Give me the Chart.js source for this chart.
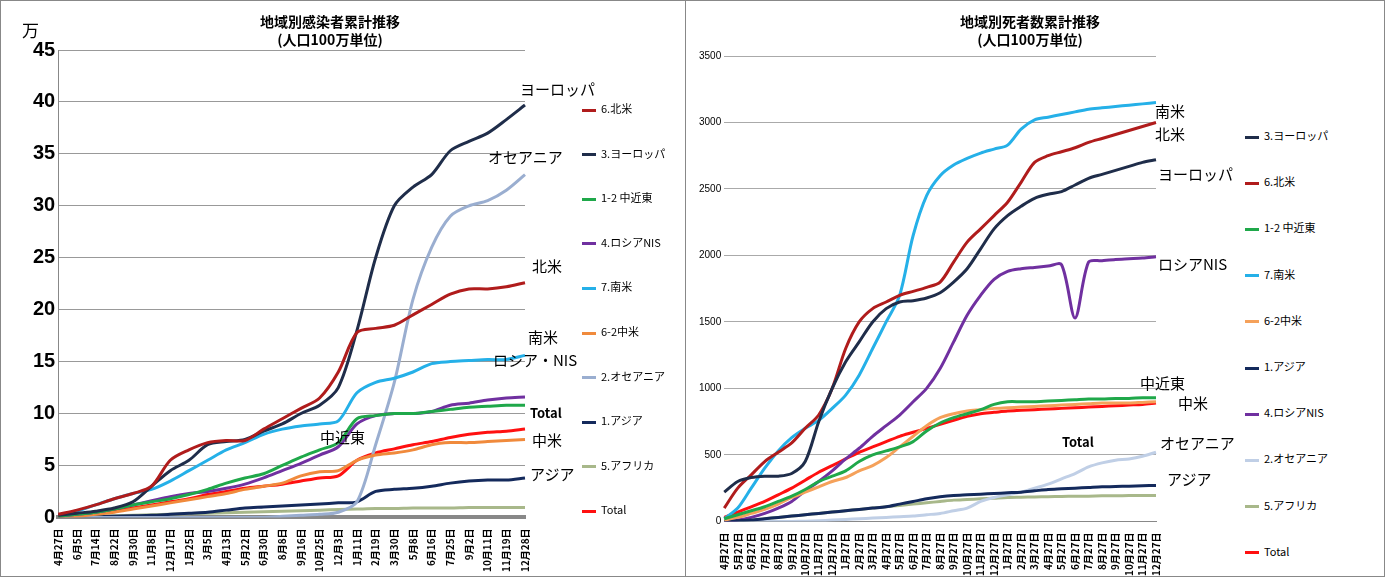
<!DOCTYPE html>
<html><head><meta charset="utf-8">
<script src="https://cdn.jsdelivr.net/npm/chart.js@4"></script>
<style>
body{margin:0;width:1385px;height:579px;background:#fff;font-family:"Noto Sans CJK JP",sans-serif;overflow:hidden}
.panel{position:absolute;top:0;height:577px;border:1px solid #888;box-sizing:border-box}
.t{position:absolute;font-weight:bold;font-size:14px;text-align:center;line-height:18px}
.lab{position:absolute;font-size:15px;white-space:nowrap}
.lg{position:absolute;font-size:11px;white-space:nowrap}
.lg i{display:inline-block;width:14px;height:3px;vertical-align:middle;margin-right:5px}
</style></head><body>
<div class="panel" style="left:0;width:686px"></div>
<div class="panel" style="left:685px;width:700px"></div>
<canvas id="c1" width="545" height="579" style="position:absolute;left:0;top:0;width:545px;height:579px"></canvas>
<canvas id="c2" width="485" height="579" style="position:absolute;left:686px;top:0;width:485px;height:579px"></canvas>
<div class="t" style="left:230px;top:12px;width:200px">地域別感染者累計推移<br>(人口100万単位)</div>
<div class="t" style="left:930px;top:12px;width:200px">地域別死者数累計推移<br>(人口100万単位)</div>
<div class="lab" style="left:22px;top:17px;font-size:17px">万</div>
<div id="ann"></div>
<div id="leg"></div>
<script>
const labelsL=['4月27日','6月5日','7月14日','8月22日','9月30日','11月8日','12月17日','1月25日','3月5日','4月13日','5月22日','6月30日','8月8日','9月16日','10月25日','12月3日','1月11日','2月19日','3月30日','5月8日','6月16日','7月25日','9月2日','10月11日','11月19日','12月28日'];
const labelsR=['4月27日','5月27日','6月27日','7月27日','8月27日','9月27日','10月27日','11月27日','12月27日','1月27日','2月27日','3月27日','4月27日','5月27日','6月27日','7月27日','8月27日','9月27日','10月27日','11月27日','12月27日','1月27日','2月27日','3月27日','4月27日','5月27日','6月27日','7月27日','8月27日','9月27日','10月27日','11月27日','12月27日'];
const L_northAmerica=[0.3,0.7,1.2,1.8,2.3,3,5.5,6.5,7.2,7.4,7.4,8.5,9.5,10.5,11.5,14,17.8,18.2,18.5,19.5,20.5,21.5,22,22,22.2,22.6];
const L_europe=[0.2,0.4,0.6,0.9,1.5,3,4.5,5.5,7,7.3,7.5,8.3,9,10,10.8,12.5,18,25,30,31.8,33,35.3,36.2,37,38.3,39.7];
const L_middleEast=[0.1,0.3,0.5,0.8,1.2,1.5,1.8,2.2,2.7,3.3,3.8,4.2,5,5.8,6.5,7.2,9.5,9.8,10,10,10.2,10.4,10.6,10.7,10.8,10.8];
const L_russia=[0.1,0.3,0.5,0.8,1.2,1.6,2,2.3,2.5,2.8,3.2,3.8,4.5,5.2,6,6.8,9,9.8,10,10,10.2,10.8,11,11.3,11.5,11.6];
const L_southAmerica=[0.2,0.6,1.2,1.8,2.3,2.7,3.5,4.5,5.5,6.5,7.2,8,8.5,8.8,9,9.3,12,13,13.4,14,14.8,15,15.1,15.2,15.2,15.6];
const L_centralAmerica=[0,0.1,0.3,0.5,0.8,1.1,1.4,1.7,2,2.3,2.7,3,3.3,4,4.4,4.5,5.5,6,6.2,6.5,7,7.2,7.2,7.3,7.4,7.5];
const L_oceania=[0,0,0,0,0,0,0,0,0,0,0,0,0.1,0.2,0.3,0.5,1.5,7,13,21,26,29,30,30.5,31.5,33];
const L_asia=[0,0,0.05,0.1,0.15,0.2,0.3,0.4,0.5,0.7,0.9,1,1.1,1.2,1.3,1.4,1.5,2.5,2.7,2.8,3,3.3,3.5,3.6,3.6,3.8];
const L_africa=[0,0.05,0.1,0.15,0.2,0.25,0.3,0.35,0.4,0.45,0.5,0.55,0.6,0.65,0.7,0.75,0.8,0.85,0.85,0.9,0.9,0.9,0.95,0.95,0.95,0.95];
const L_total=[0.1,0.2,0.4,0.6,0.9,1.2,1.5,1.8,2.2,2.5,2.8,3,3.2,3.5,3.8,4,5.5,6.2,6.6,7,7.3,7.7,8,8.2,8.3,8.5];
const R_europe=[220,300,330,340,340,360,450,750,1000,1200,1350,1500,1600,1650,1660,1680,1720,1800,1900,2050,2200,2300,2370,2430,2460,2480,2530,2580,2610,2640,2670,2700,2720];
const R_northAmerica=[100,250,350,450,520,590,700,800,1000,1300,1500,1600,1650,1700,1730,1760,1800,1950,2100,2200,2300,2400,2550,2700,2750,2780,2810,2850,2880,2910,2940,2970,3000];
const R_middleEast=[20,50,80,110,150,190,240,300,340,380,450,500,530,560,600,680,740,780,810,840,880,900,900,900,905,910,915,920,920,925,925,930,930];
const R_southAmerica=[20,100,250,400,530,630,700,760,850,950,1100,1300,1500,1700,2150,2450,2600,2680,2730,2770,2800,2830,2950,3020,3040,3060,3080,3100,3110,3120,3130,3140,3150];
const R_centralAmerica=[10,30,60,90,130,180,220,260,300,330,380,420,480,560,640,720,780,810,830,840,850,855,860,865,870,875,880,885,890,890,890,895,900];
const R_asia=[0,5,10,20,30,40,50,60,70,80,90,100,110,130,150,170,185,195,200,205,210,215,220,230,240,245,250,255,260,262,265,268,270];
const R_russia=[0,10,30,60,100,150,230,300,380,470,550,640,720,800,900,1000,1150,1350,1550,1700,1820,1880,1900,1910,1920,1930,1530,1950,1960,1970,1975,1980,1990];
const R_oceania=[0,0,0,0,0,0,2,5,10,15,20,25,30,35,40,50,60,80,100,150,180,200,220,250,280,320,360,410,440,460,470,490,520];
const R_africa=[0,5,10,20,30,40,50,60,70,80,90,100,110,120,130,140,150,160,165,170,175,180,182,184,186,188,190,190,192,192,194,195,195];
const R_total=[30,70,110,150,200,250,310,370,420,470,520,560,600,640,670,700,730,760,790,810,820,830,835,840,845,850,855,860,865,870,875,880,890];

const C={na:'#b01c1c',eu:'#1f2d4a',me:'#1fa84a',ru:'#7030a0',sa:'#25b0e8',ca:'#f08a3c',oc:'#9aaed0',as:'#142a5c',af:'#a8b88a',to:'#ff1010'};
const dsL=[['6.北米',L_northAmerica,C.na],['3.ヨーロッパ',L_europe,C.eu],['1-2 中近東',L_middleEast,C.me],['4.ロシアNIS',L_russia,C.ru],['7.南米',L_southAmerica,C.sa],['6-2中米',L_centralAmerica,C.ca],['2.オセアニア',L_oceania,C.oc],['1.アジア',L_asia,C.as],['5.アフリカ',L_africa,C.af],['Total',L_total,C.to]];
const dsR=[['3.ヨーロッパ',R_europe,C.eu],['6.北米',R_northAmerica,C.na],['1-2 中近東',R_middleEast,C.me],['7.南米',R_southAmerica,C.sa],['6-2中米',R_centralAmerica,'#f5a15a'],['1.アジア',R_asia,C.as],['4.ロシアNIS',R_russia,C.ru],['2.オセアニア',R_oceania,'#c0cfe6'],['5.アフリカ',R_africa,C.af],['Total',R_total,C.to]];
function mk(d){return d.map(([l,v,c])=>({label:l,data:v,borderColor:c,backgroundColor:c,borderWidth:3,pointRadius:0,tension:0.3}));}
const tickX={font:{size:10,weight:'bold',family:'Noto Sans CJK JP'},color:'#000',maxRotation:90,minRotation:90,autoSkip:false};
new Chart(c1,{type:'line',data:{labels:labelsL,datasets:mk(dsL)},options:{animation:false,responsive:false,maintainAspectRatio:false,
 layout:{padding:{top:50,left:30,right:20,bottom:4}},plugins:{legend:{display:false},tooltip:{enabled:false}},
 scales:{x:{grid:{display:false},border:{color:'#888',width:4},ticks:tickX},
 y:{min:0,max:45,ticks:{stepSize:5,font:{size:20,weight:'bold'},color:'#000'},grid:{color:'#999',drawTicks:false},border:{color:'#888'}}}}});
new Chart(c2,{type:'line',data:{labels:labelsR,datasets:mk(dsR)},options:{animation:false,responsive:false,maintainAspectRatio:false,
 layout:{padding:{top:56,left:10,right:10,bottom:0}},plugins:{legend:{display:false},tooltip:{enabled:false}},
 scales:{x:{grid:{display:false},border:{color:'#888'},ticks:tickX},
 y:{min:0,max:3500,ticks:{stepSize:500,font:{size:10},color:'#000',callback:v=>String(v)},grid:{color:'#aaa',drawTicks:false},border:{display:false}}}}});
const ann=[['ヨーロッパ',520,78],['オセアニア',488,146],['北米',532,255],['南米',528,326],['ロシア・NIS',493,349],['中米',532,429],['アジア',530,463],['中近東',320,426],
['南米',1155,100],['北米',1155,123],['ヨーロッパ',1158,163],['ロシアNIS',1158,253],['中近東',1140,372],['中米',1178,392],['オセアニア',1160,432],['アジア',1167,468]];
document.getElementById('ann').innerHTML=ann.map(([t,x,y])=>`<div class="lab" style="left:${x}px;top:${y}px">${t}</div>`).join('')+
 '<div class="lab" style="left:1062px;top:432px;font-weight:bold;font-size:13px">Total</div><div class="lab" style="left:530px;top:403px;font-weight:bold;font-size:13px">Total</div>';
let h='';dsL.forEach(([l,v,c],i)=>h+=`<div class="lg" style="left:582px;top:${100+i*44.6}px"><i style="background:${c}"></i>${l}</div>`);
dsR.forEach(([l,v,c],i)=>h+=`<div class="lg" style="left:1245px;top:${127+i*46.2}px"><i style="background:${c}"></i>${l}</div>`);
document.getElementById('leg').innerHTML=h;
</script></body></html>
